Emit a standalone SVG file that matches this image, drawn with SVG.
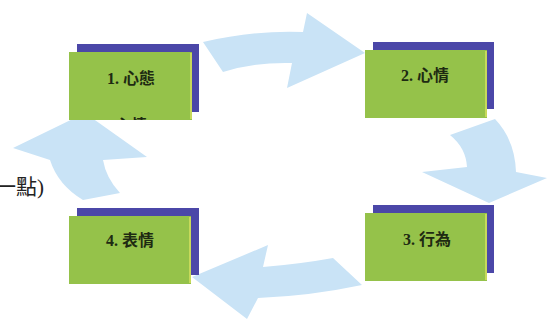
<svg xmlns="http://www.w3.org/2000/svg" width="548" height="320" viewBox="0 0 548 320">
<style>
.arrow{fill:#c9e3f6;stroke:none}
.back{fill:#4b47a8}
.front{fill:#95c24a}
.edge{stroke:#d8e060;stroke-width:1.5}
.lbl{font-family:"Liberation Serif","Noto Sans CJK TC",serif;font-weight:bold;font-size:16px;fill:#1e2a12;text-anchor:middle}
.side{font-family:"Liberation Serif","Noto Sans CJK TC",serif;font-size:21px;fill:#222;text-anchor:end}
</style>
<defs>
<clipPath id="c1"><rect x="69" y="52" width="123" height="68"/></clipPath>
</defs>
<rect width="548" height="320" fill="#ffffff"/>
<g id="connectors">
<path class="arrow" d="M203,42 Q255,30 303,32 L307,13 L365,53 L287,88 L292,63 Q255,62 223,72 Z"/>
<path class="arrow" d="M450,135 L495,119 Q515,140 516,172 L547,178 L489,203 L422,172 L467,167 Q466,148 450,135 Z"/>
<path class="arrow" d="M333,258 Q300,264 263,267 L268,245 L192,277 L247,319 L258,298 Q310,296 362,285 Z"/>
<path class="arrow" d="M83,200 Q58,185 50,160 L13,148 L85,113 L147,157 L103,160 Q106,178 120,193 Z"/>
</g>
<text class="side" x="44" y="194">一點)</text>
<g id="node1">
<rect class="back" x="77" y="44" width="122" height="68"/>
<rect class="front" x="69" y="52" width="123" height="68"/>
<line class="edge" x1="191" y1="53" x2="191" y2="119"/>
<text class="lbl" x="131" y="84">1. 心態</text>
<text class="lbl" x="131" y="131" clip-path="url(#c1)">心情</text>
</g>
<g id="node2">
<rect class="back" x="373" y="42" width="121" height="67"/>
<rect class="front" x="365" y="50" width="122" height="68"/>
<line class="edge" x1="486" y1="51" x2="486" y2="117"/>
<text class="lbl" x="425" y="81">2. 心情</text>
</g>
<g id="node3">
<rect class="back" x="373" y="205" width="121" height="68"/>
<rect class="front" x="365" y="213" width="122" height="68"/>
<line class="edge" x1="486" y1="214" x2="486" y2="280"/>
<text class="lbl" x="427" y="245">3. 行為</text>
</g>
<g id="node4">
<rect class="back" x="77" y="208" width="122" height="67"/>
<rect class="front" x="69" y="216" width="122" height="68"/>
<line class="edge" x1="190" y1="217" x2="190" y2="283"/>
<text class="lbl" x="130" y="246">4. 表情</text>
</g>
</svg>
